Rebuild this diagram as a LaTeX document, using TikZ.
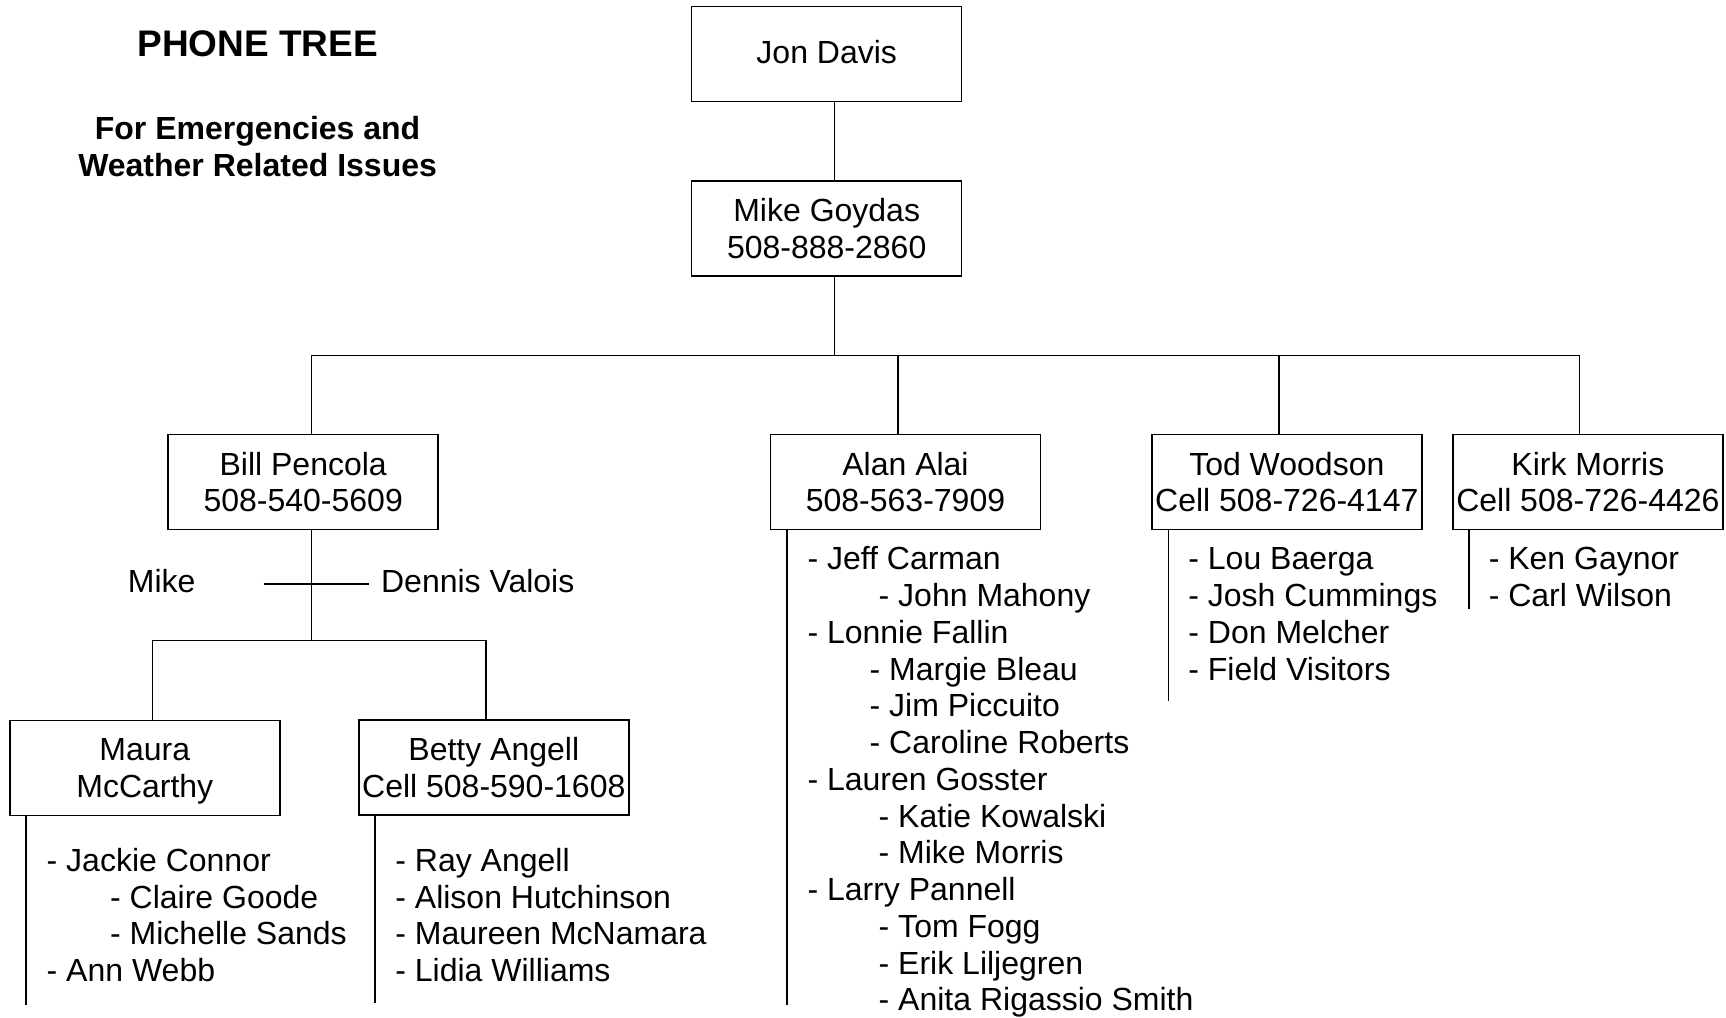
\documentclass[tikz,border=0pt]{standalone}
\usepackage{fontspec}
\setmainfont{Liberation Sans}
\begin{document}
\begin{tikzpicture}[x=1pt,y=-1pt,
  box/.style={draw, line width=1.5pt, minimum width=270pt, minimum height=95pt, inner sep=2pt, align=center, font=\fontsize{32}{36.5}\selectfont},
  item/.style={anchor=base west, inner sep=0pt, font=\fontsize{32}{36.5}\selectfont},
  wire/.style={line width=1.5pt}]
\useasboundingbox (0,0) rectangle (1726,1017);
% titles
\node[anchor=base, inner sep=0pt, font=\fontsize{37}{40}\selectfont\bfseries] (title) at (257.6,56.5) {PHONE TREE};
\node[anchor=base, inner sep=0pt, font=\fontsize{32}{36}\selectfont\bfseries] (sub1) at (257.6,139) {For Emergencies and};
\node[anchor=base, inner sep=0pt, font=\fontsize{32}{36}\selectfont\bfseries] (sub2) at (257.6,176.5) {Weather Related Issues};
% boxes
\node[box] (jon) at (826.7,53.9) {Jon Davis\rule[-4.4pt]{0pt}{0pt}};
\node[box] (mike) at (826.7,228.5) {Mike Goydas\\508-888-2860};
\node[box] (bill) at (303.2,482.2) {Bill Pencola\\508-540-5609};
\node[box] (alan) at (905.5,482.2) {Alan Alai\\508-563-7909};
\node[box] (tod) at (1286.8,482.2) {Tod Woodson\\Cell 508-726-4147};
\node[box] (kirk) at (1587.9,482.2) {Kirk Morris\\Cell 508-726-4426};
\node[box] (maura) at (144.8,767.9) {Maura\\McCarth\smash{y}};
\node[box] (betty) at (493.8,767.4) {Betty Angell\\Cell 508-590-1608};
% junction coordinates
\coordinate (tj) at (834.6,355.6);
\coordinate (jbill) at (311.5,355.6);
\coordinate (jalan) at (898.2,355.6);
\coordinate (jtod) at (1279.1,355.6);
\coordinate (jkirk) at (1579.6,355.6);
\coordinate (sj) at (311.5,640.5);
\coordinate (jmaura) at (152.5,640.5);
\coordinate (jbetty) at (485.8,640.5);
\coordinate (ml) at (263.5,584);
\coordinate (mr) at (368.5,584);
% connectors
\draw[wire] (jon.south -| tj) -- (mike.north -| tj);
\draw[wire] (mike.south -| tj) -- (tj);
\draw[wire] (jbill |- bill.north) -- (jbill) -- (jkirk) -- (jkirk |- kirk.north);
\draw[wire] (jalan) -- (jalan |- alan.north);
\draw[wire] (jtod) -- (jtod |- tod.north);
\draw[wire] (sj |- bill.south) -- (sj);
\draw[wire] (jmaura |- maura.north) -- (jmaura) -- (jbetty) -- (jbetty |- betty.north);
\draw[wire] (ml) -- (mr);
\node[item] (mk) at (127.7,592) {Mike};
\node[item] (dv) at (380.9,592) {Dennis Valois};
% list lines
\draw[wire] (maura.south -| 25.8,0) -- (25.8,1004.5);
\draw[wire] (betty.south -| 375,0) -- (375,1002.5);
\draw[wire] (alan.south -| 786.8,0) -- (786.8,1005);
\draw[wire] (tod.south -| 1168.4,0) -- (1168.4,701);
\draw[wire] (kirk.south -| 1469,0) -- (1469,609);
% Maura list
\node[item] (m1) at (46.5,871) {- Jackie Connor};
\node[item] (m2) at (110,908) {- Claire Goode};
\node[item] (m3) at (110,944.5) {- Michelle Sands};
\node[item] (m4) at (46.5,981) {- Ann Webb};
% Betty list
\node[item] (b1) at (395.2,871) {- Ray Angell};
\node[item] (b2) at (395.2,908) {- Alison Hutchinson};
\node[item] (b3) at (395.2,944.5) {- Maureen McNamara};
\node[item] (b4) at (395.2,981) {- Lidia Williams};
% Alan list
\node[item] (a1) at (807.3,569.7) {- Jeff Carman};
\node[item] (a2) at (878.5,606.5) {- John Mahony};
\node[item] (a3) at (807.3,643.2) {- Lonnie Fallin};
\node[item] (a4) at (869.5,680) {- Margie Bleau};
\node[item] (a5) at (869.5,716.7) {- Jim Piccuito};
\node[item] (a6) at (869.5,753.5) {- Caroline Roberts};
\node[item] (a7) at (807.3,790.2) {- Lauren Gosster};
\node[item] (a8) at (878.5,827) {- Katie Kowalski};
\node[item] (a9) at (878.5,863.7) {- Mike Morris};
\node[item] (a10) at (807.3,900.5) {- Larry Pannell};
\node[item] (a11) at (878.5,937.2) {- Tom Fogg};
\node[item] (a12) at (878.5,974) {- Erik Liljegren};
\node[item] (a13) at (878.5,1010.7) {- Anita Rigassio Smith};
% Tod list
\node[item] (t1) at (1188.2,569.7) {- Lou Baerga};
\node[item] (t2) at (1188.2,606.5) {- Josh Cummings};
\node[item] (t3) at (1188.2,643.2) {- Don Melcher};
\node[item] (t4) at (1188.2,680) {- Field Visitors};
% Kirk list
\node[item] (k1) at (1488.6,569.7) {- Ken Gaynor};
\node[item] (k2) at (1488.6,606.5) {- Carl Wilson};
\end{tikzpicture}
\end{document}
